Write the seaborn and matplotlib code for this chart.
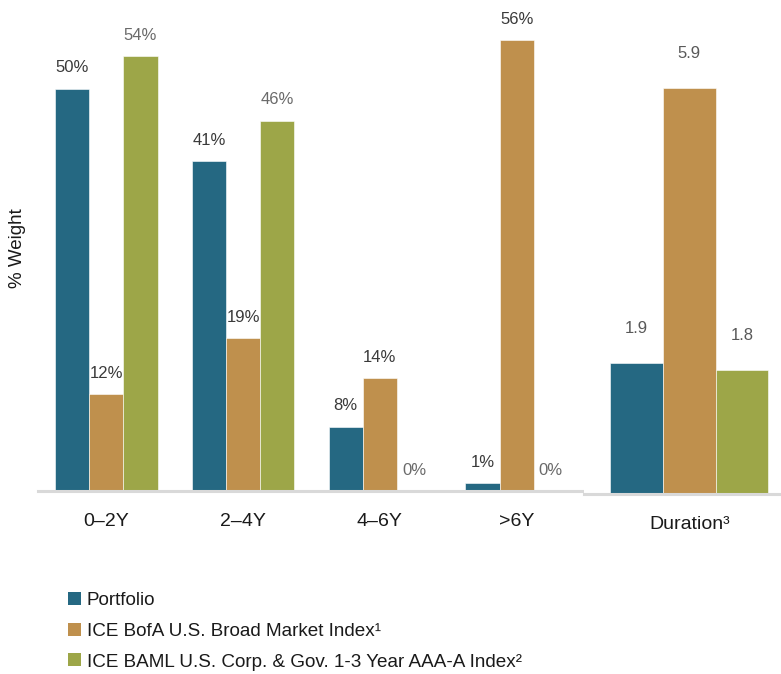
import matplotlib
matplotlib.use("Agg")
import matplotlib.pyplot as plt
import seaborn as sns
import pandas as pd
from matplotlib.patches import Patch

sns.set_theme(style="white")
plt.rcParams['font.family'] = ['Liberation Sans', 'DejaVu Sans']

# ---- data ----
maturity_buckets = ["0\u20132Y", "2\u20134Y", "4\u20136Y", ">6Y"]
series_names = ["Portfolio", "ICE BofA U.S. Broad Market Index\u00b9",
                "ICE BAML U.S. Corp. & Gov. 1-3 Year AAA-A Index\u00b2"]
portfolio_weights = [50, 41, 8, 1]
broad_market_weights = [12, 19, 14, 56]
short_index_weights = [54, 46, 0, 0]
duration_category = ["Duration\u00b3"]
duration_values = [1.9, 5.9, 1.8]

colors = ["#256882", "#BF904D", "#9DA648"]
label_colors = ["#3a3a3a", "#3a3a3a", "#6a6a6a"]
txt_font = ['Liberation Sans', 'DejaVu Sans']

rows = []
for name, vals in zip(series_names, [portfolio_weights, broad_market_weights, short_index_weights]):
    for b, v in zip(maturity_buckets, vals):
        rows.append({"bucket": b, "series": name, "weight": v})
df_w = pd.DataFrame(rows)
df_d = pd.DataFrame({"cat": duration_category * 3, "series": series_names, "dur": duration_values})

W, H = 781, 674
fig = plt.figure(figsize=(W / 100, H / 100), dpi=100)
ax1 = fig.add_axes([38 / W, (H - 491) / H, 547 / W, 491 / H])
ax2 = fig.add_axes([584 / W, (H - 494) / H, 197 / W, 494 / H])

sns.barplot(data=df_w, x="bucket", y="weight", hue="series", hue_order=series_names,
            palette=colors, width=0.75, ax=ax1, legend=False, saturation=1,
            edgecolor="white", linewidth=0.4)
sns.barplot(data=df_d, x="cat", y="dur", hue="series", hue_order=series_names,
            palette=colors, width=0.8, ax=ax2, legend=False, saturation=1,
            edgecolor="white", linewidth=0.4)

ax1.set_ylim(0, 61)
ax1.set_xlim(-0.5, 3.5)
ax2.set_ylim(0, 494 / 68.8)
ax2.set_xlim(-0.533, 0.465)

for ax in (ax1, ax2):
    for s in ["top", "right", "left"]:
        ax.spines[s].set_visible(False)
    ax.spines["bottom"].set_color("#d9d9d9")
    ax.spines["bottom"].set_linewidth(2.2)
    ax.set_yticks([])
    ax.set_xlabel("")
    ax.set_ylabel("")
    ax.tick_params(axis="x", length=0, pad=16)
    for lbl in ax.get_xticklabels():
        lbl.set_fontfamily(txt_font)
        lbl.set_fontsize(14)
        lbl.set_color("#1a1a1a")

# value labels
for i, cont in enumerate(ax1.containers):
    for p in cont:
        h = p.get_height()
        ax1.annotate(f"{h:.0f}%", (p.get_x() + p.get_width() / 2, h),
                     xytext=(0, 15), textcoords="offset points",
                     ha="center", va="center", fontsize=12, color=label_colors[i])
for i, cont in enumerate(ax2.containers):
    for p in cont:
        h = p.get_height()
        ax2.annotate(f"{h:.1f}", (p.get_x() + p.get_width() / 2, h),
                     xytext=(0, 25), textcoords="offset points",
                     ha="center", va="center", fontsize=12, color="#595959")

fig.text(18 / W, 1 - 248 / H, "% Weight", rotation=90, ha="center", va="center",
         fontsize=13.5, color="#1a1a1a")

handles = [Patch(facecolor=c, edgecolor="none") for c in colors]
fig.legend(handles, series_names, loc="upper left", bbox_to_anchor=(68 / W, 1 - 592 / H),
           frameon=False, handlelength=0.68, handleheight=0.68, handletextpad=0.3,
           labelspacing=0.72, borderaxespad=0, borderpad=0,
           prop={"family": txt_font, "size": 13.6}, labelcolor="#1a1a1a")

fig.savefig("out.png", dpi=100)
